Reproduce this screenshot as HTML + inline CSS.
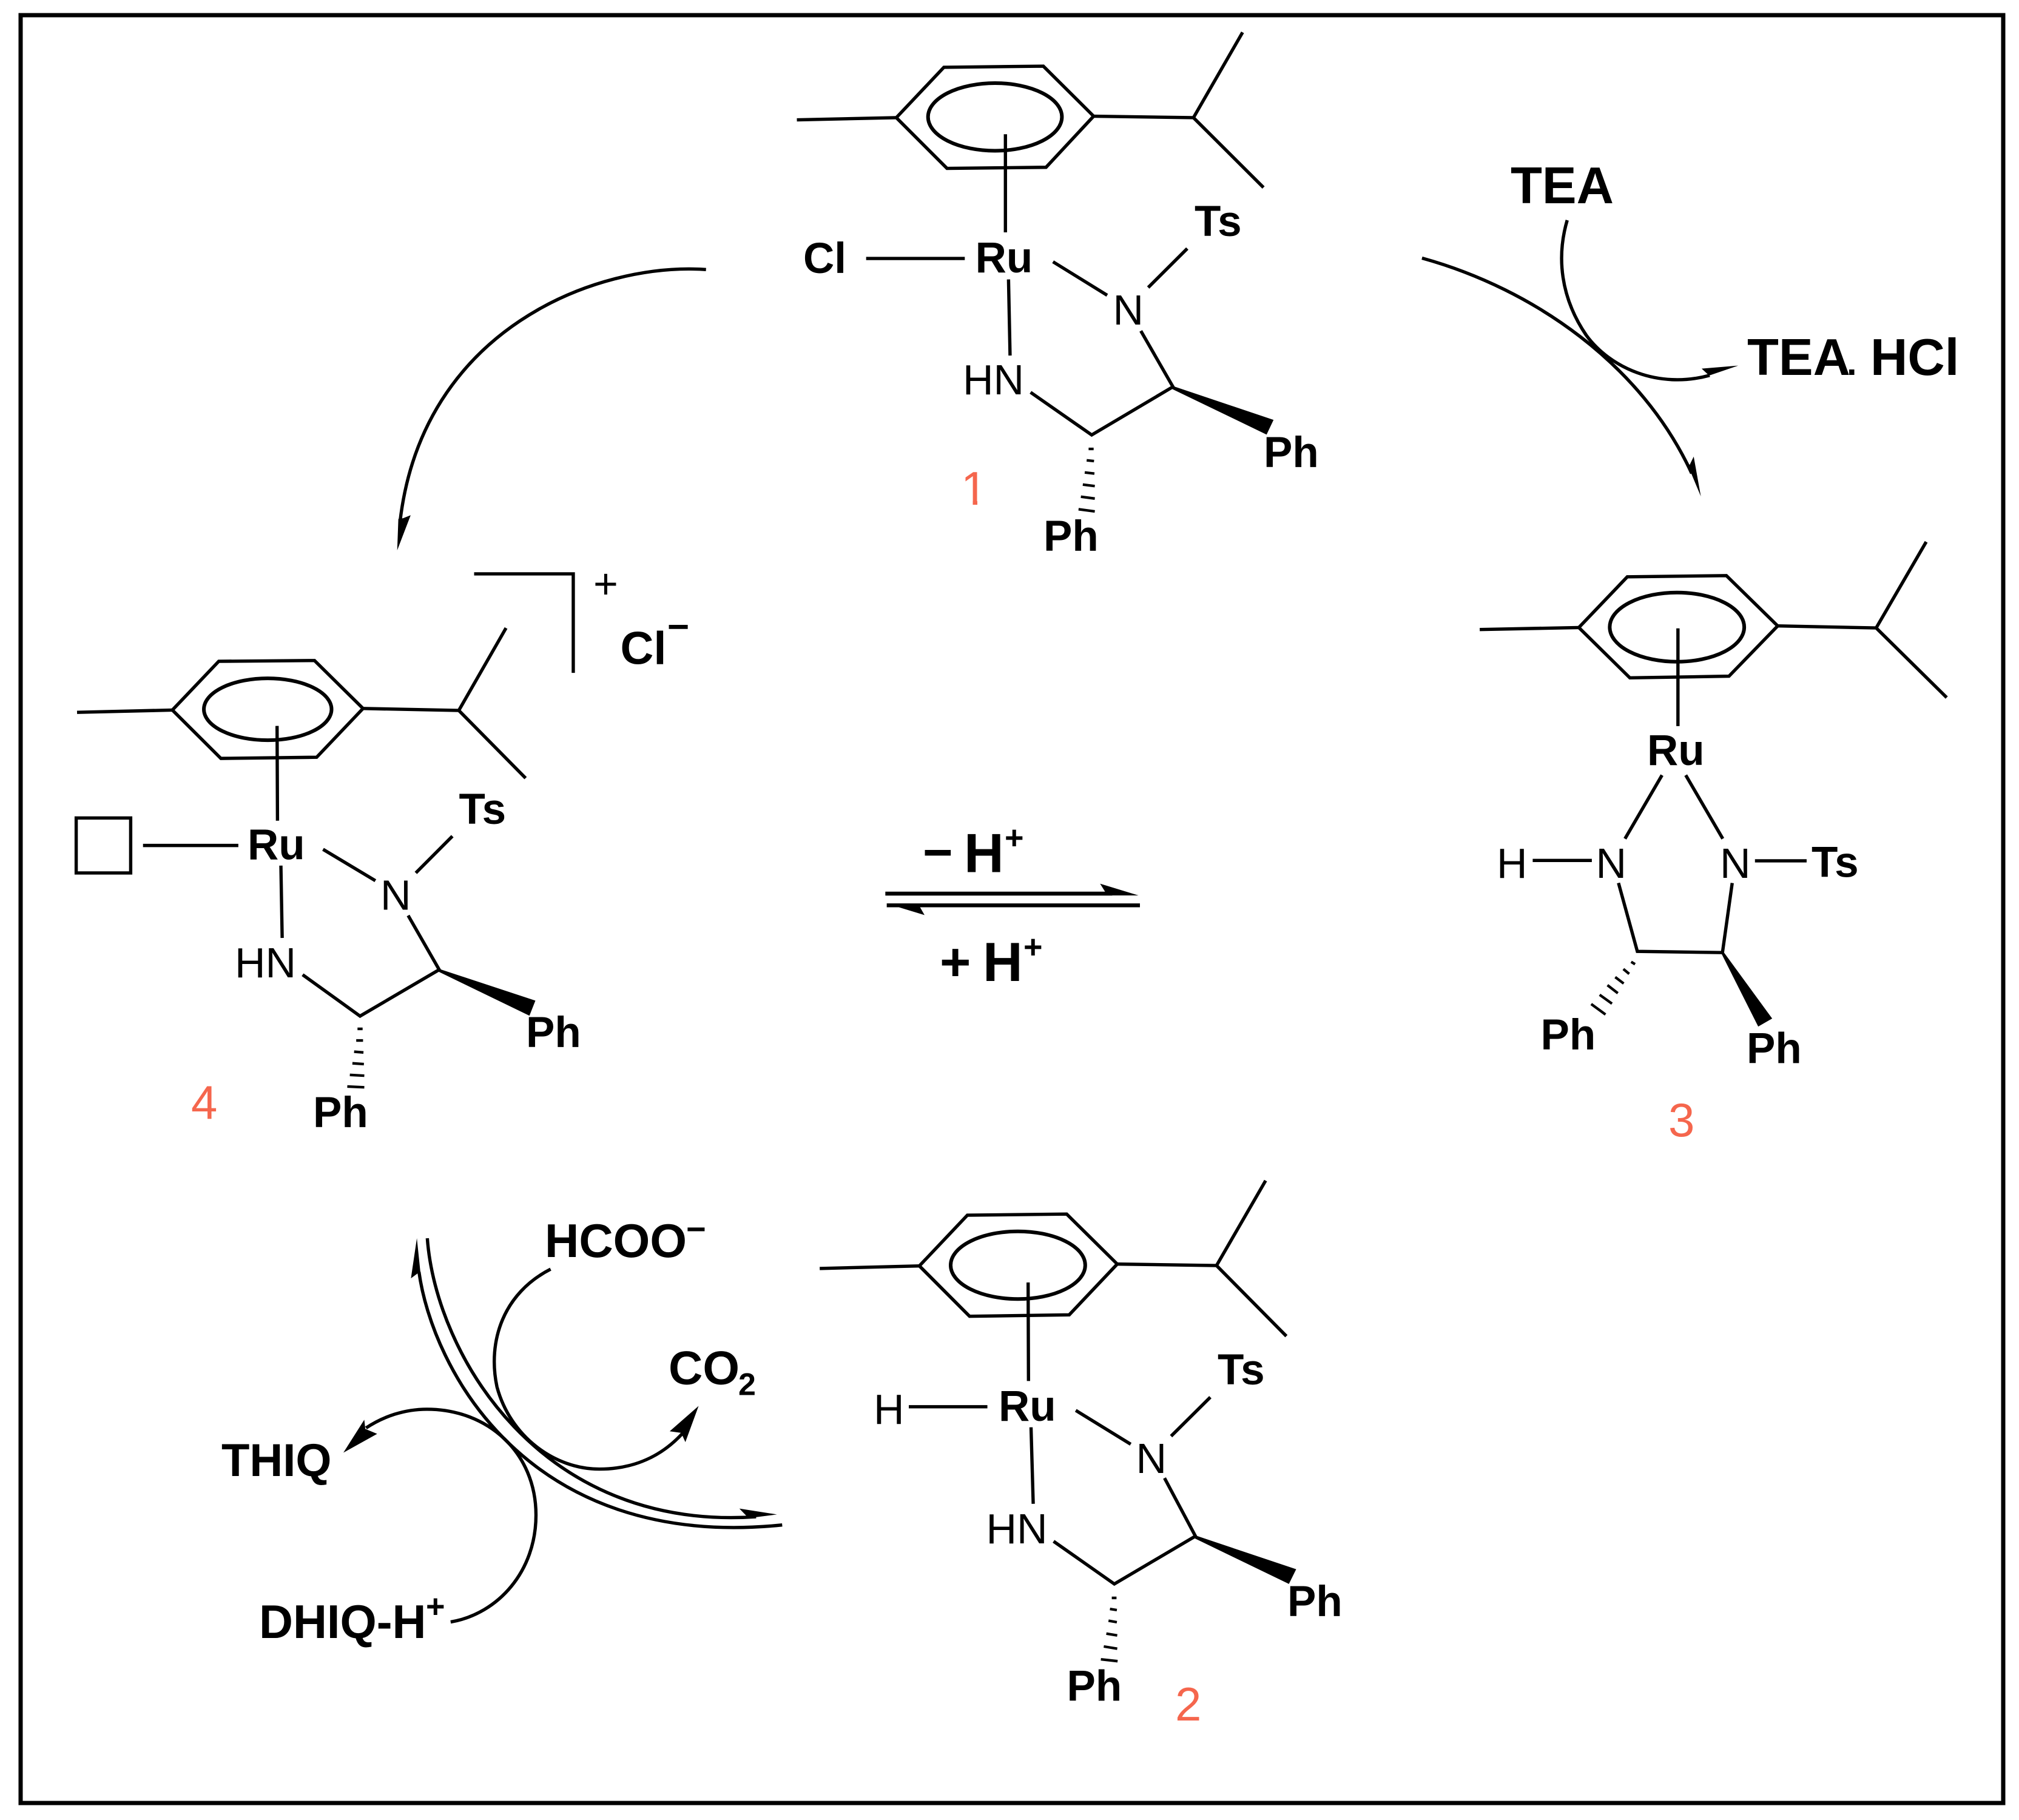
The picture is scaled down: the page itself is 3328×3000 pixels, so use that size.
<!DOCTYPE html>
<html>
<head>
<meta charset="utf-8">
<title>Catalytic cycle</title>
<style>
html,body{margin:0;padding:0;background:#fff;width:3328px;height:3000px;overflow:hidden}
svg{display:block}
.l path,.l ellipse,.l rect{fill:none;stroke:#000;stroke-width:5.4;vector-effect:non-scaling-stroke;stroke-linejoin:miter}
.l polygon{fill:#000;stroke:none}
.l .r{fill:none;stroke:#000;stroke-width:5.4;vector-effect:non-scaling-stroke;stroke-linejoin:miter}
.l .h{stroke-width:4.3}
.l .e{stroke-width:6}
text{font-family:"Liberation Sans",Arial,sans-serif;fill:#000}
.b{font-weight:700;font-size:71px}
.n{font-weight:400;font-size:70px}
.c{font-weight:400;font-size:78px;fill:#f5664d}
.x{font-weight:700}
</style>
</head>
<body>
<svg width="3328" height="3000" viewBox="0 0 3328 3000" xmlns="http://www.w3.org/2000/svg">
<rect width="3328" height="3000" fill="#fff"/>
<rect x="34" y="25" width="3268" height="2947" fill="none" stroke="#000" stroke-width="7"/>

<!-- Molecule 1 -->
<g class="l" transform="translate(1200,0) scale(.63776,.60606)">
<polygon class="r" points="435,320 558,183 815,180 945,316 822,455 566,458"/>
<ellipse class="e" cx="690" cy="318" rx="173" ry="92"/>
<path d="M178 326L435 320M945 316L1203 320M1203 320L1330 88M1203 320L1384 510M717 365V632M357 703H612M840 712L980 803M1086 782L1187 676M725 760L729 967M782 1067L940 1183L1150 1052L1067 900"/>
<polygon points="1150,1050 1410,1142 1392,1182 1148,1058"/>
<path class="h" d="M932 1221H945M927 1252L946 1254M922 1285L947 1288M917 1318L948 1322M912 1351L948 1356M906 1385L948 1391"/>
</g>
<text class="b" x="1324" y="450">Cl</text>
<text class="b" x="1607.6" y="449">Ru</text>
<text class="n" x="1834.5" y="535">N</text>
<text class="b" x="1969" y="389">Ts</text>
<text class="n" x="1587" y="650">HN</text>
<text class="b" x="2083" y="770">Ph</text>
<text class="b" x="1720" y="908">Ph</text>
<text class="c" x="1584" y="832">1</text>
<rect x="1580" y="825.5" width="23.5" height="8" fill="#fff"/>
<rect x="1611" y="825.5" width="19" height="8" fill="#fff"/>

<!-- Molecule 4 -->
<g class="l" transform="translate(80,900) scale(.7015,.63776)">
<polygon class="r" points="291,424 400,298 625,296 739,420 630,546 405,549"/>
<ellipse class="e" cx="515" cy="422" rx="150" ry="80"/>
<path d="M67 430L291 424M739 420L964 425M964 425L1075 212M964 425L1121 600M537 465L538 710M222 774H446M645 784L768 865M863 845L949 750M546 826L549 1013M597 1108L732 1215L918 1095L845 955M1000 72H1233V328"/>
<rect x="65" y="703" width="128" height="142"/>
<polygon points="918,1093 1144,1175 1130,1214 916,1100"/>
<path class="h" d="M726 1248H738M723 1278H739M718 1307L740 1309M714 1337L741 1339M708 1367L742 1369M702 1397L742 1399"/>
</g>
<text class="b" x="408" y="1416.6">Ru</text>
<text class="n" x="627" y="1499.5">N</text>
<text class="b" x="756.5" y="1358">Ts</text>
<text class="n" x="387" y="1611">HN</text>
<text class="b" x="867" y="1726">Ph</text>
<text class="b" x="516" y="1858">Ph</text>
<text class="c" x="315" y="1844">4</text>
<text class="b" style="font-size:76px" x="1022.5" y="1094.5">Cl</text>
<text class="x" style="font-size:62px" x="1100" y="1054">−</text>
<text class="n" style="font-size:70px" x="978" y="986">+</text>

<!-- Molecule 2 -->
<g class="l" transform="translate(1320,1920) scale(.59952,.60606)">
<polygon class="r" points="326,275 458,137 731,134 870,270 738,408 464,412"/>
<ellipse class="e" cx="597" cy="273" rx="185" ry="92"/>
<path d="M52 282L326 275M870 270L1143 274M1143 274L1278 43M1143 274L1335 466M625 320L626 588M297 658H513M756 668L907 760M1018 738L1126 632M633 714L639 922M695 1024L862 1140L1085 1010L1000 852"/>
<polygon points="1085,1008 1362,1100 1342,1140 1083,1016"/>
<path class="h" d="M855 1178H868M850 1208L869 1211M846 1240L869 1244M840 1275L870 1280M833 1310L870 1316M825 1345L871 1350"/>
</g>
<text class="n" x="1440" y="2347">H</text>
<text class="b" x="1646" y="2342">Ru</text>
<text class="n" x="1872.5" y="2428">N</text>
<text class="b" x="2007" y="2282">Ts</text>
<text class="n" x="1625.5" y="2544">HN</text>
<text class="b" x="2122" y="2664">Ph</text>
<text class="b" x="1758.5" y="2803.6">Ph</text>
<text class="c" x="1937" y="2836">2</text>

<!-- Molecule 3 -->
<g class="l" transform="translate(2400,860) scale(.53562,.66308)">
<polygon class="r" points="378,263 527,137 832,134 990,259 840,384 535,388"/>
<ellipse class="e" cx="680" cy="262" rx="207" ry="86"/>
<path d="M73 268L378 263M990 259L1293 264L1447 50M1293 264L1510 437M683 265V508M634 630L520 788M707 630L821 788M236 842H418M920 843H1079M500 898L558 1068L820 1071L850 898"/>
<polygon points="822,1068 973,1235 930,1255 816,1072"/>
<path class="h" d="M539 1094L551 1100M515 1112L533 1124M490 1132L516 1148M466 1152L498 1172M442 1176L480 1198M416 1199L460 1225"/>
</g>
<text class="b" x="2715" y="1261">Ru</text>
<text class="n" x="2630.5" y="1447">N</text>
<text class="n" x="2835" y="1447">N</text>
<text class="n" x="2467" y="1447">H</text>
<text class="b" x="2986" y="1445.5">Ts</text>
<text class="b" x="2539.5" y="1730">Ph</text>
<text class="b" x="2879" y="1752.6">Ph</text>
<text class="c" x="2750" y="1873">3</text>

<!-- Arrow 1 to 4 -->
<g class="l" transform="translate(600,400) scale(.3827,.35714)">
<path d="M1473 124C1000 90 250 400 155 1290"/>
<polygon points="143,1420 148,1275 168,1272 201,1258"/>
</g>

<!-- Arrow 1 to 3 and TEA -->
<g class="l" transform="translate(2300,200) scale(.65574,.44643)">
<path d="M67 505C350 620 620 900 745 1300"/>
<polygon points="768,1385 750,1238 740,1268 733,1262"/>
<path d="M432 365C405 500 415 650 480 790C540 910 660 990 790 938"/>
<polygon points="862,902 770,913 786,935 780,943"/>
</g>
<text class="x" style="font-size:85px" x="2490" y="335">TEA</text>
<text class="x" style="font-size:85px" x="2880" y="618">TEA</text>
<text class="x" style="font-size:60px" x="3044" y="618">.</text>
<text class="x" style="font-size:85px" x="3083" y="618">HCl</text>

<!-- Equilibrium -->
<g class="l" transform="translate(1400,1330) scale(.33333)">
<path style="stroke-width:6.4" d="M178 429H1300M185 487H1437"/>
<polygon points="1240,380 1430,438 1250,438 1265,420"/>
<polygon points="185,478 372,535 350,497 300,478"/>
</g>
<text class="x" style="font-size:85px" x="1521" y="1434">−</text>
<text class="x" style="font-size:91px" x="1589" y="1437.7">H</text>
<text class="x" style="font-size:54px" x="1656" y="1399">+</text>
<text class="x" style="font-size:88px" x="1549" y="1616">+</text>
<text class="x" style="font-size:91px" x="1620" y="1617">H</text>
<text class="x" style="font-size:54px" x="1687" y="1579">+</text>

<!-- Bottom-left arrows -->
<g class="l" transform="translate(500,1950) scale(.57405,.54201)">
<path d="M332 270C370 560 640 1120 1375 1040"/>
<polygon points="326,168 309,290 332,272 336,270"/>
<path d="M356 168C380 520 680 1060 1300 1015"/>
<polygon points="1360,1008 1252,990 1272,1012 1272,1020"/>
<path d="M710 262C575 335 528 480 556 620C594 770 720 870 850 870C950 870 1030 830 1090 760"/>
<polygon points="1135,678 1052,755 1085,760 1097,788"/>
<path d="M423 1335C560 1310 668 1180 668 1010C668 820 530 688 355 688C290 688 230 710 180 745"/>
<polygon points="115,820 175,720 178,748 212,763"/>
</g>
<text class="x" style="font-size:78px" x="898" y="2072">HCOO</text>
<text class="x" style="font-size:56px" x="1131" y="2045">−</text>
<text class="x" style="font-size:78px" x="1102" y="2281.7">CO</text>
<text class="x" style="font-size:52px" x="1217" y="2299.6">2</text>
<text class="x" style="font-size:76px" x="365" y="2433">THIQ</text>
<text class="x" style="font-size:77.5px" x="427" y="2700">DHIQ-H</text>
<text class="x" style="font-size:54px" x="702" y="2666">+</text>
</svg>
</body>
</html>
